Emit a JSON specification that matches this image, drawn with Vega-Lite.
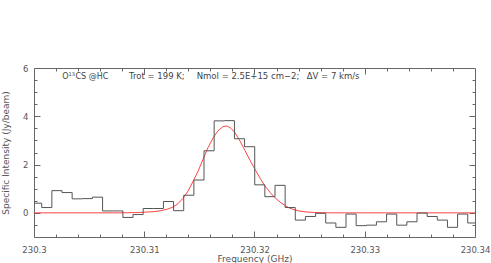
{
  "$schema": "https://vega.github.io/schema/vega-lite/v6.json",
  "autosize": {"type": "none"},
  "padding": {"left": 34, "top": 68, "right": 16, "bottom": 26},
  "width": 441,
  "height": 169,
  "background": "white",
  "datasets": {
    "spec": [
      {"freq": 230.3, "flux": 0.40},
      {"freq": 230.30070, "flux": 0.22},
      {"freq": 230.30162, "flux": 0.92},
      {"freq": 230.30254, "flux": 0.84},
      {"freq": 230.30346, "flux": 0.58},
      {"freq": 230.30438, "flux": 0.59},
      {"freq": 230.30530, "flux": 0.65},
      {"freq": 230.30622, "flux": 0.08},
      {"freq": 230.30714, "flux": 0.08},
      {"freq": 230.30806, "flux": -0.19},
      {"freq": 230.30898, "flux": -0.07},
      {"freq": 230.30990, "flux": 0.18},
      {"freq": 230.31082, "flux": 0.18},
      {"freq": 230.31174, "flux": 0.47},
      {"freq": 230.31266, "flux": 0.09},
      {"freq": 230.31358, "flux": 0.73},
      {"freq": 230.31450, "flux": 1.36},
      {"freq": 230.31542, "flux": 2.57},
      {"freq": 230.31634, "flux": 3.81},
      {"freq": 230.31726, "flux": 3.82},
      {"freq": 230.31818, "flux": 3.07},
      {"freq": 230.31910, "flux": 2.74},
      {"freq": 230.32002, "flux": 1.16},
      {"freq": 230.32094, "flux": 0.67},
      {"freq": 230.32186, "flux": 1.14},
      {"freq": 230.32278, "flux": 0.22},
      {"freq": 230.32370, "flux": -0.30},
      {"freq": 230.32462, "flux": -0.15},
      {"freq": 230.32554, "flux": -0.02},
      {"freq": 230.32646, "flux": -0.42},
      {"freq": 230.32738, "flux": -0.60},
      {"freq": 230.32830, "flux": -0.05},
      {"freq": 230.32922, "flux": -0.53},
      {"freq": 230.33014, "flux": -0.51},
      {"freq": 230.33106, "flux": -0.37},
      {"freq": 230.33198, "flux": -0.05},
      {"freq": 230.33290, "flux": -0.51},
      {"freq": 230.33382, "flux": -0.37},
      {"freq": 230.33474, "flux": -0.01},
      {"freq": 230.33566, "flux": -0.15},
      {"freq": 230.33658, "flux": -0.30},
      {"freq": 230.33750, "flux": -0.60},
      {"freq": 230.33842, "flux": -0.05},
      {"freq": 230.33934, "flux": -0.42},
      {"freq": 230.34, "flux": -0.42}
    ],
    "fit": [
      {"freq": 230.3, "flux": 0},
      {"freq": 230.3078, "flux": 0},
      {"freq": 230.30916, "flux": 0.01},
      {"freq": 230.31052, "flux": 0.04},
      {"freq": 230.31125, "flux": 0.07},
      {"freq": 230.31170, "flux": 0.11},
      {"freq": 230.31215, "flux": 0.16},
      {"freq": 230.31261, "flux": 0.24},
      {"freq": 230.31306, "flux": 0.38},
      {"freq": 230.31351, "flux": 0.60},
      {"freq": 230.31397, "flux": 0.90},
      {"freq": 230.31442, "flux": 1.30},
      {"freq": 230.31488, "flux": 1.72},
      {"freq": 230.31533, "flux": 2.22},
      {"freq": 230.31578, "flux": 2.70},
      {"freq": 230.31624, "flux": 3.10},
      {"freq": 230.31669, "flux": 3.40},
      {"freq": 230.31714, "flux": 3.57},
      {"freq": 230.31751, "flux": 3.60},
      {"freq": 230.31787, "flux": 3.50},
      {"freq": 230.31823, "flux": 3.32},
      {"freq": 230.31868, "flux": 2.98},
      {"freq": 230.31914, "flux": 2.58},
      {"freq": 230.31959, "flux": 2.18},
      {"freq": 230.32005, "flux": 1.80},
      {"freq": 230.32050, "flux": 1.44},
      {"freq": 230.32095, "flux": 1.11},
      {"freq": 230.32141, "flux": 0.85},
      {"freq": 230.32186, "flux": 0.63},
      {"freq": 230.32231, "flux": 0.45},
      {"freq": 230.32277, "flux": 0.30},
      {"freq": 230.32322, "flux": 0.19},
      {"freq": 230.32367, "flux": 0.12},
      {"freq": 230.32413, "flux": 0.07},
      {"freq": 230.32485, "flux": 0.03},
      {"freq": 230.32576, "flux": 0.01},
      {"freq": 230.32685, "flux": 0},
      {"freq": 230.34, "flux": 0}
    ],
    "one": [{"k": 1}]
  },
  "layer": [
    {
      "data": {"name": "fit"},
      "mark": {"type": "line", "color": "#ff4444", "strokeWidth": 1, "clip": true},
      "encoding": {
        "x": {"field": "freq", "type": "quantitative",
          "scale": {"domain": [230.3, 230.34], "nice": false, "zero": false},
          "axis": {"orient": "bottom", "values": [230.302, 230.304, 230.306, 230.308, 230.312, 230.314, 230.316, 230.318, 230.322, 230.324, 230.326, 230.328, 230.332, 230.334, 230.336, 230.338],
            "tickSize": -3, "labels": false, "title": null}},
        "y": {"field": "flux", "type": "quantitative",
          "scale": {"domain": [-1, 6], "nice": false, "zero": false},
          "axis": {"orient": "left", "values": [-0.5, 0.5, 1, 1.5, 2.5, 3, 3.5, 4.5, 5, 5.5], "tickSize": -3, "labels": false, "title": null}}
      }
    },
    {
      "data": {"name": "spec"},
      "mark": {"type": "line", "interpolate": "step-after", "color": "#555555", "strokeWidth": 1, "clip": true},
      "encoding": {
        "x": {"field": "freq", "type": "quantitative",
          "axis": {"orient": "bottom", "values": [230.3, 230.31, 230.32, 230.33, 230.34], "tickSize": -6,
            "labelExpr": "format(datum.value, '.2~f')", "labelPadding": 14, "title": "Frequency (GHz)", "titlePadding": 1}},
        "y": {"field": "flux", "type": "quantitative",
          "axis": {"orient": "left", "values": [0, 2, 4, 6], "tickSize": -6, "labelPadding": 12,
            "title": "Specific Intensity (Jy/beam)", "titlePadding": 12}}
      }
    },
    {
      "data": {"name": "one"},
      "mark": {"type": "text", "text": "O", "align": "left", "baseline": "alphabetic", "font": "DejaVu Sans", "fontSize": 8, "color": "#444444"},
      "encoding": {
        "x": {"datum": 230.30257, "type": "quantitative",
          "axis": {"orient": "top", "values": [230.31, 230.32, 230.33], "tickSize": -6, "labels": false, "title": null}},
        "y": {"datum": 5.54, "type": "quantitative",
          "axis": {"orient": "right", "values": [0, 2, 4], "tickSize": -6, "labels": false, "title": null}}
      }
    },
    {
      "data": {"name": "one"},
      "mark": {"type": "text", "text": "13", "align": "left", "baseline": "top", "font": "DejaVu Sans", "fontSize": 5, "color": "#444444"},
      "encoding": {
        "x": {"datum": 230.30314, "type": "quantitative",
          "axis": {"orient": "top", "values": [230.302, 230.304, 230.306, 230.308, 230.312, 230.314, 230.316, 230.318, 230.322, 230.324, 230.326, 230.328, 230.332, 230.334, 230.336, 230.338], "tickSize": -3, "labels": false, "title": null}},
        "y": {"datum": 5.85, "type": "quantitative",
          "axis": {"orient": "right", "values": [-0.5, 0.5, 1, 1.5, 2.5, 3, 3.5, 4.5, 5, 5.5], "tickSize": -3, "labels": false, "title": null}}
      }
    },
    {
      "data": {"name": "one"},
      "mark": {"type": "text", "text": "CS @HC", "align": "left", "baseline": "alphabetic", "font": "DejaVu Sans", "fontSize": 8, "color": "#444444"},
      "encoding": {
        "x": {"datum": 230.30376, "type": "quantitative", "axis": null},
        "y": {"datum": 5.54, "type": "quantitative", "axis": null}
      }
    },
    {
      "data": {"name": "one"},
      "mark": {"type": "text", "text": "Trot = 199 K;", "align": "left", "baseline": "alphabetic", "font": "DejaVu Sans", "fontSize": 8.5, "color": "#444444"},
      "encoding": {
        "x": {"datum": 230.30862, "type": "quantitative", "axis": null},
        "y": {"datum": 5.55, "type": "quantitative", "axis": null}
      }
    },
    {
      "data": {"name": "one"},
      "mark": {"type": "text", "text": "Nmol = 2.5E+15 cm−2;", "align": "left", "baseline": "alphabetic", "font": "DejaVu Sans", "fontSize": 8.5, "color": "#444444"},
      "encoding": {
        "x": {"datum": 230.31476, "type": "quantitative", "axis": null},
        "y": {"datum": 5.55, "type": "quantitative", "axis": null}
      }
    },
    {
      "data": {"name": "one"},
      "mark": {"type": "text", "text": "ΔV = 7 km/s", "align": "left", "baseline": "alphabetic", "font": "DejaVu Sans", "fontSize": 8.5, "color": "#444444"},
      "encoding": {
        "x": {"datum": 230.32474, "type": "quantitative", "axis": null},
        "y": {"datum": 5.55, "type": "quantitative", "axis": null}
      }
    }
  ],
  "resolve": {"axis": {"x": "independent", "y": "independent"}},
  "config": {
    "view": {"stroke": "#666666", "strokeWidth": 1},
    "axis": {
      "domain": false, "grid": false, "tickColor": "#666666", "tickWidth": 1,
      "labelFont": "DejaVu Sans", "labelFontSize": 8.5, "labelColor": "#555555",
      "titleFont": "DejaVu Sans", "titleFontSize": 9, "titleFontWeight": "normal", "titleColor": "#555555",
      "labelFlush": false, "labelOverlap": false
    }
  }
}
